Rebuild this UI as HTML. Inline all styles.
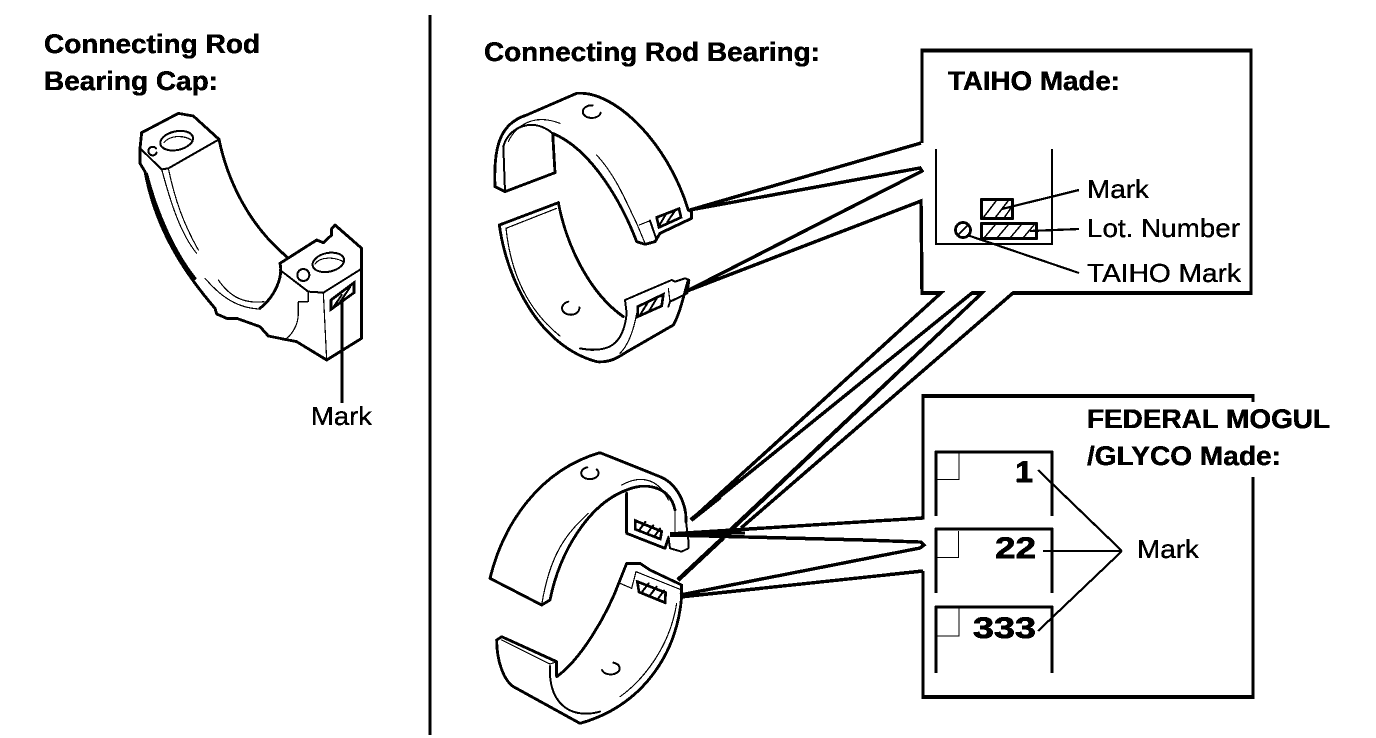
<!DOCTYPE html>
<html>
<head>
<meta charset="utf-8">
<style>
html,body{margin:0;padding:0;background:#fff;width:1376px;height:738px;overflow:hidden}
svg{display:block}
text{font-family:"Liberation Sans",Arial,sans-serif;fill:#000}
.h{font-weight:bold;font-size:27px;stroke:#000;stroke-width:.5px}
.l{font-size:26px;stroke:#000;stroke-width:.35px}
.n{font-weight:bold;font-size:30px;stroke:#000;stroke-width:.7px}
.t{fill:none;stroke:#000;stroke-width:8.5;stroke-linejoin:round;stroke-linecap:round}
.m{fill:none;stroke:#000;stroke-width:6;stroke-linejoin:round;stroke-linecap:round}
.f{fill:none;stroke:#000;stroke-width:3.5;stroke-linecap:round;stroke-linejoin:round}
.w{fill:#fff;stroke:#000;stroke-width:8;stroke-linejoin:miter}
</style>
</head>
<body>
<svg width="1376" height="738" viewBox="0 0 1376 738" xmlns="http://www.w3.org/2000/svg">
<defs>
<filter id="b" x="0" y="0" width="100%" height="100%" color-interpolation-filters="sRGB">
<feComponentTransfer>
<feFuncR type="discrete" tableValues="0 1"/>
<feFuncG type="discrete" tableValues="0 1"/>
<feFuncB type="discrete" tableValues="0 1"/>
</feComponentTransfer>
</filter>
</defs>
<g filter="url(#b)">
<rect width="1376" height="738" fill="#fff"/>

<line x1="430" y1="15" x2="430" y2="735" stroke="#000" stroke-width="3.4"/>

<text class="h" x="44" y="53" textLength="216" lengthAdjust="spacingAndGlyphs">Connecting Rod</text>
<text class="h" x="44" y="90" textLength="174" lengthAdjust="spacingAndGlyphs">Bearing Cap:</text>
<text class="h" x="484" y="61" textLength="336" lengthAdjust="spacingAndGlyphs">Connecting Rod Bearing:</text>

<!-- Cap -->
<g transform="translate(120 100) scale(.33333)">
<path class="t" d="M65 98 L175 40 L220 48 L297 118 C320 230 380 370 500 470"/>
<path class="t" d="M65 98 L60 145 L60 190 L75 215 C100 350 160 480 285 625 L290 642 L320 655 L350 655 L420 680 L445 708 L495 718 L530 725 L620 780 L725 715 L725 445 L645 375 L635 385 L635 405 L610 428 L590 420 L480 490 C490 530 465 590 420 625"/>
<path class="m" d="M60 145 L125 208 L145 205 L297 118"/>
<path class="t" d="M80 222 C110 340 165 460 225 535"/>
<path class="f" d="M125 208 C150 300 180 400 230 460"/>
<path class="f" d="M145 205 C165 300 190 370 235 450"/>
<path class="f" d="M255 535 C290 575 340 625 420 627"/>
<path class="f" d="M295 540 C330 590 370 612 432 605"/>
<path class="m" d="M480 510 L565 575 L610 578 L722 508"/>
<path class="f" d="M610 578 L620 780"/>
<path class="f" d="M565 575 L565 605 L535 605 L535 640 C535 680 510 710 495 718"/>
<ellipse class="m" cx="170" cy="122" rx="50" ry="28" transform="rotate(-12 170 122)"/>
<path class="f" d="M132 128 C150 105 190 105 214 120"/>
<path class="m" d="M108 145 A13 13 0 1 0 110 158"/>
<ellipse class="m" cx="625" cy="487" rx="48" ry="28" transform="rotate(-12 625 487)"/>
<path class="f" d="M585 492 C600 470 640 470 668 484"/>
<circle class="m" cx="550" cy="525" r="18"/>
<path class="w" d="M633 600 L702 548 L702 578 L633 628 Z"/>
<path class="m" d="M640 622 L665 585 M660 606 L690 562"/>
</g>
<line x1="342" y1="302" x2="342" y2="403" stroke="#000" stroke-width="2.6"/>
<text class="l" x="311" y="425" textLength="61" lengthAdjust="spacingAndGlyphs">Mark</text>

<!-- Upper bearing pair -->
<g transform="translate(480 80) scale(.33333)">
<path class="t" d="M75 335 L45 320 C40 200 60 130 140 105 L290 40 C400 30 560 180 625 390"/>
<path class="t" d="M75 335 L225 278 L218 160 C340 210 430 380 470 485 L495 493 L525 485 L540 460 L635 415 L635 395 L625 390"/>
<path class="m" d="M70 200 L75 335"/>
<path class="m" d="M70 200 C85 140 160 110 218 160"/>
<path class="f" d="M85 185 C100 150 150 95 240 130"/>
<path class="f" d="M350 225 C410 290 440 370 470 430 L495 490"/>
<path class="f" d="M478 435 L510 422"/>
<path class="m" d="M510 422 L530 480"/>
<path class="m" d="M338 76 A27 19 0 1 0 362 98"/>
<path class="w" d="M530 412 L597 386 L603 412 L537 442 Z"/>
<path class="m" d="M538 436 L558 402 M562 426 L585 392"/>

<path class="t" d="M235 368 L58 435 C80 600 180 800 350 845 C400 850 430 820 450 810 L580 735 C600 700 610 650 625 600"/>
<path class="t" d="M235 368 C260 500 330 640 430 710"/>
<path class="m" d="M435 660 L575 600 L585 605 L615 595 L628 600 L622 640 L570 665 L565 680"/>
<path class="m" d="M435 660 L440 700 C430 800 380 820 300 805"/>
<path class="f" d="M78 445 L230 385"/>
<path class="f" d="M78 445 C90 560 130 680 240 768"/>
<path class="f" d="M470 700 C460 760 440 800 420 820"/>
<path class="f" d="M565 625 L570 665"/>
<path class="m" d="M265 665 A26 20 0 1 0 298 682"/>
<path class="w" d="M473 680 L550 643 L545 678 L473 710 Z"/>
<path class="m" d="M482 702 L503 668 M508 692 L530 655"/>
</g>

<!-- Lower bearing pair -->
<g transform="translate(480 440) scale(.33333)">
<path class="t" d="M30 415 C70 250 180 90 360 38 L540 110 C590 130 620 190 618 245"/>
<path class="t" d="M30 415 L185 495 L210 480 C240 330 330 190 440 150 C500 125 570 140 585 210"/>
<path class="m" d="M618 245 L625 300 L625 325 L605 335 L570 325 L565 290"/>
<path class="t" d="M440 160 L440 280 L555 325 L565 295"/>
<path class="f" d="M185 495 C210 340 260 280 325 220"/>
<path class="f" d="M425 135 C470 110 530 105 565 180"/>
<path class="f" d="M585 205 L585 280"/>
<path class="m" d="M322 82 A26 18 0 1 0 350 88"/>
<path class="w" d="M466 242 L545 274 L541 297 L466 268 Z"/>
<path class="m" d="M478 270 L496 246 M502 280 L520 256 M524 288 L540 266"/>

<path class="t" d="M50 600 L65 590 L230 665 L230 710 C300 660 380 530 420 420 L440 370 L480 370 L510 390 L605 435 L605 470 C590 650 480 800 300 850 L100 740 C70 720 50 660 50 600"/>
<path class="m" d="M210 678 C205 780 260 840 360 815"/>
<path class="f" d="M65 600 L210 672 L230 665"/>
<path class="f" d="M420 430 L455 445 L468 395 L605 450"/>
<path class="f" d="M590 490 C570 620 490 720 420 770"/>
<path class="m" d="M400 668 A27 18 0 1 1 366 690"/>
<path class="w" d="M472 425 L557 458 L555 488 L477 456 Z"/>
<path class="m" d="M486 456 L506 430 M510 466 L530 440 M534 476 L552 452"/>
</g>

<!-- TAIHO callout -->
<path d="M921 143 L690 210 L920 168 L922 171 L687 291 L921 201 L922 293 L941 293 L691 520 L972 293 L982 293 L723 538 L678 580 M982 293 L730 530 M1013 293 L741 528 L1013 293 L1251 293 L1251 50.5 L922 50.5 L922 143" fill="none" stroke="#000" stroke-width="3.4" stroke-linejoin="miter"/>
<path d="M691 520 L720 497" stroke="#000" stroke-width="4.5" fill="none"/>
<path d="M723 538 L678 580" stroke="#000" stroke-width="4.5" fill="none"/>
<text class="h" x="948" y="90" textLength="172" lengthAdjust="spacingAndGlyphs">TAIHO Made:</text>
<path d="M936 149 V244 H1052 V149" fill="none" stroke="#000" stroke-width="2"/>
<g fill="none" stroke="#000">
<rect x="981.5" y="199.5" width="31" height="19" stroke-width="2.6"/>
<rect x="981.5" y="223.5" width="55" height="15" stroke-width="2.6"/>
<circle cx="963" cy="230" r="7.5" stroke-width="2.8"/>
<path d="M983 218 L996 201 M995 218 L1008 201 M1004 218 L1011 208 M984 238 L995 225 M997 238 L1008 225 M1010 238 L1021 225 M1023 238 L1034 225 M958 235 L968 225" stroke-width="1.5"/>
<path d="M1002 209 L1079 190 M1030 231 L1079 229 M967 235 L1079 273" stroke-width="2.2"/>
</g>
<text class="l" x="1087" y="198" textLength="62" lengthAdjust="spacingAndGlyphs">Mark</text>
<text class="l" x="1087" y="237" textLength="153" lengthAdjust="spacingAndGlyphs">Lot. Number</text>
<text class="l" x="1087" y="282" textLength="154" lengthAdjust="spacingAndGlyphs">TAIHO Mark</text>

<!-- Federal callout -->
<path d="M1253 402 V396 H923 V518 L670 534 M670 535 L786 538 L863 540 L921 542 L924 545 L920 548 L680 595 M923 571 L680 597 M923 571 V697 H1253 V477" fill="none" stroke="#000" stroke-width="3.4"/>
<path d="M670 534 L745 533" stroke="#000" stroke-width="3" fill="none"/>
<text class="h" x="1087" y="428" textLength="243" lengthAdjust="spacingAndGlyphs">FEDERAL MOGUL</text>
<text class="h" x="1087" y="465" textLength="194" lengthAdjust="spacingAndGlyphs">/GLYCO Made:</text>

<g fill="none" stroke="#000">
<path d="M936 516 V452 H1052 V516" stroke-width="2.6"/>
<path d="M936 479.5 H959 V452" stroke-width="1.2"/>
<path d="M936 593 V529 H1052 V593" stroke-width="2.6"/>
<path d="M936 557.5 H958.5 V531" stroke-width="1.2"/>
<path d="M936 673 V607 H1052 V673" stroke-width="2.6"/>
<path d="M936 636 H959 V607" stroke-width="1.2"/>
<path d="M1038 470 L1122 551 M1043 551 L1122 551 M1038 631 L1122 551" stroke-width="2.2"/>
</g>
<text class="n" x="1015" y="482" textLength="18" lengthAdjust="spacingAndGlyphs">1</text>
<text class="n" x="995" y="558" textLength="41" lengthAdjust="spacingAndGlyphs">22</text>
<text class="n" x="973" y="638" textLength="63" lengthAdjust="spacingAndGlyphs">333</text>
<text class="l" x="1137" y="558" textLength="62" lengthAdjust="spacingAndGlyphs">Mark</text>
</g>
</svg>
</body>
</html>
